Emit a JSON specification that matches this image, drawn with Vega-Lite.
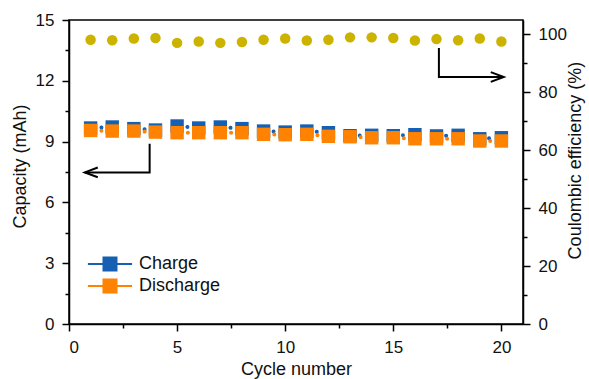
{
  "$schema": "https://vega.github.io/schema/vega-lite/v6.json",
  "width": 454,
  "height": 304,
  "autosize": {"type": "none"},
  "padding": {"left": 69, "top": 20, "right": 66, "bottom": 55},
  "background": "white",
  "config": {
    "font": "Liberation Sans",
    "view": {"stroke": "black", "strokeWidth": 1.5},
    "axis": {
      "domainColor": "black",
      "domainWidth": 1.5,
      "tickColor": "black",
      "tickWidth": 1.5,
      "labelColor": "#111111",
      "titleColor": "#111111",
      "labelFont": "Liberation Sans",
      "titleFont": "Liberation Sans",
      "labelFontSize": 17,
      "titleFontSize": 18,
      "titleFontWeight": "normal",
      "grid": false,
      "labelOverlap": false
    },
    "legend": {"padding": 0}
  },
  "datasets": {
    "capacity": [
      {"cycle": 1, "series": "Charge", "cap": 9.67},
      {"cycle": 2, "series": "Charge", "cap": 9.72},
      {"cycle": 3, "series": "Charge", "cap": 9.64},
      {"cycle": 4, "series": "Charge", "cap": 9.57},
      {"cycle": 5, "series": "Charge", "cap": 9.77},
      {"cycle": 6, "series": "Charge", "cap": 9.67},
      {"cycle": 7, "series": "Charge", "cap": 9.72},
      {"cycle": 8, "series": "Charge", "cap": 9.64},
      {"cycle": 9, "series": "Charge", "cap": 9.52},
      {"cycle": 10, "series": "Charge", "cap": 9.47},
      {"cycle": 11, "series": "Charge", "cap": 9.52},
      {"cycle": 12, "series": "Charge", "cap": 9.44},
      {"cycle": 13, "series": "Charge", "cap": 9.29},
      {"cycle": 14, "series": "Charge", "cap": 9.31},
      {"cycle": 15, "series": "Charge", "cap": 9.29},
      {"cycle": 16, "series": "Charge", "cap": 9.34},
      {"cycle": 17, "series": "Charge", "cap": 9.28},
      {"cycle": 18, "series": "Charge", "cap": 9.31},
      {"cycle": 19, "series": "Charge", "cap": 9.14},
      {"cycle": 20, "series": "Charge", "cap": 9.19},
      {"cycle": 1, "series": "Discharge", "cap": 9.55},
      {"cycle": 2, "series": "Discharge", "cap": 9.52},
      {"cycle": 3, "series": "Discharge", "cap": 9.52},
      {"cycle": 4, "series": "Discharge", "cap": 9.47},
      {"cycle": 5, "series": "Discharge", "cap": 9.44},
      {"cycle": 6, "series": "Discharge", "cap": 9.44},
      {"cycle": 7, "series": "Discharge", "cap": 9.44},
      {"cycle": 8, "series": "Discharge", "cap": 9.44},
      {"cycle": 9, "series": "Discharge", "cap": 9.36},
      {"cycle": 10, "series": "Discharge", "cap": 9.34},
      {"cycle": 11, "series": "Discharge", "cap": 9.36},
      {"cycle": 12, "series": "Discharge", "cap": 9.26},
      {"cycle": 13, "series": "Discharge", "cap": 9.24},
      {"cycle": 14, "series": "Discharge", "cap": 9.19},
      {"cycle": 15, "series": "Discharge", "cap": 9.19},
      {"cycle": 16, "series": "Discharge", "cap": 9.14},
      {"cycle": 17, "series": "Discharge", "cap": 9.14},
      {"cycle": 18, "series": "Discharge", "cap": 9.14},
      {"cycle": 19, "series": "Discharge", "cap": 9.03},
      {"cycle": 20, "series": "Discharge", "cap": 9.03}
    ],
    "efficiency": [
      {"cycle": 1, "eff": 98.2},
      {"cycle": 2, "eff": 98.0},
      {"cycle": 3, "eff": 98.6},
      {"cycle": 4, "eff": 98.8},
      {"cycle": 5, "eff": 97.1},
      {"cycle": 6, "eff": 97.6},
      {"cycle": 7, "eff": 97.1},
      {"cycle": 8, "eff": 97.4},
      {"cycle": 9, "eff": 98.2},
      {"cycle": 10, "eff": 98.6},
      {"cycle": 11, "eff": 97.9},
      {"cycle": 12, "eff": 98.2},
      {"cycle": 13, "eff": 99.0},
      {"cycle": 14, "eff": 99.0},
      {"cycle": 15, "eff": 98.8},
      {"cycle": 16, "eff": 97.9},
      {"cycle": 17, "eff": 98.4},
      {"cycle": 18, "eff": 98.0},
      {"cycle": 19, "eff": 98.6},
      {"cycle": 20, "eff": 97.6}
    ],
    "leftArrow": [
      {"step": 1, "cycle": 3.73, "cap": 8.9},
      {"step": 2, "cycle": 3.73, "cap": 7.48},
      {"step": 3, "cycle": 0.73, "cap": 7.48}
    ],
    "rightArrow": [
      {"step": 1, "cycle": 17.11, "eff": 95.3},
      {"step": 2, "cycle": 17.11, "eff": 85.3},
      {"step": 3, "cycle": 20.11, "eff": 85.3}
    ]
  },
  "layer": [
    {
      "layer": [
        {
          "data": {"name": "capacity"},
          "transform": [{"filter": "datum.series === 'Charge'"}],
          "mark": {"type": "line", "color": "#1560b3", "strokeWidth": 4, "strokeCap": "round", "strokeDash": [0.01, 43.23], "strokeDashOffset": 32.43},
          "encoding": {
            "x": {"field": "cycle", "type": "quantitative", "axis": null},
            "y": {"field": "cap", "type": "quantitative", "axis": null}
          }
        },
        {
          "data": {"name": "capacity"},
          "transform": [{"filter": "datum.series === 'Discharge'"}],
          "mark": {"type": "line", "color": "#ff8200", "strokeWidth": 4, "strokeCap": "round", "strokeDash": [0.01, 43.23], "strokeDashOffset": 32.43},
          "encoding": {
            "x": {"field": "cycle", "type": "quantitative", "axis": null},
            "y": {"field": "cap", "type": "quantitative", "axis": null}
          }
        },
        {
          "data": {"name": "capacity"},
          "mark": {"type": "point", "shape": "square", "filled": true, "size": 180, "opacity": 1, "strokeWidth": 0},
          "encoding": {
            "x": {
              "field": "cycle",
              "type": "quantitative",
              "scale": {"domain": [0, 21], "nice": false, "zero": false},
              "axis": {
                "orient": "bottom",
                "title": "Cycle number",
                "values": [0, 5, 10, 15, 20],
                "tickSize": 7,
                "labelPadding": 8,
                "titlePadding": 5
              }
            },
            "y": {
              "field": "cap",
              "type": "quantitative",
              "scale": {"domain": [0, 15], "nice": false},
              "axis": {
                "orient": "left",
                "title": "Capacity (mAh)",
                "titleY": 146,
                "values": [0, 3, 6, 9, 12, 15],
                "tickSize": 7,
                "labelPadding": 8,
                "titlePadding": 6
              }
            },
            "fill": {
              "field": "series",
              "type": "nominal",
              "scale": {"domain": ["Charge", "Discharge"], "range": ["#1560b3", "#ff8200"]},
              "legend": {
                "title": null,
                "orient": "none",
                "legendX": 32,
                "legendY": 235,
                "symbolType": "M-3.4,0H-1M1,0H3.4M-1,-1H1V1H-1Z",
                "symbolSize": 169,
                "symbolStrokeWidth": 2,
                "labelFontSize": 18,
                "labelFont": "Liberation Sans",
                "labelColor": "#111111",
                "labelOffset": 20,
                "rowPadding": 0
              }
            },
            "stroke": {
              "field": "series",
              "type": "nominal",
              "scale": {"domain": ["Charge", "Discharge"], "range": ["#1560b3", "#ff8200"]},
              "legend": {
                "title": null,
                "orient": "none",
                "legendX": 32,
                "legendY": 235,
                "symbolType": "M-3.4,0H-1M1,0H3.4M-1,-1H1V1H-1Z",
                "symbolSize": 169,
                "symbolStrokeWidth": 2,
                "labelFontSize": 18,
                "labelFont": "Liberation Sans",
                "labelColor": "#111111",
                "labelOffset": 20,
                "rowPadding": 0
              }
            }
          }
        },
        {
          "data": {"name": "leftArrow"},
          "mark": {"type": "line", "color": "black", "strokeWidth": 2},
          "encoding": {
            "x": {
              "field": "cycle",
              "type": "quantitative",
              "axis": {"orient": "bottom", "title": null, "values": [2.5, 7.5, 12.5, 17.5], "tickSize": 4, "labels": false, "domain": false}
            },
            "y": {
              "field": "cap",
              "type": "quantitative",
              "axis": {"orient": "left", "title": null, "values": [1.5, 4.5, 7.5, 10.5, 13.5], "tickSize": 4, "labels": false, "domain": false}
            },
            "order": {"field": "step", "type": "quantitative"}
          }
        },
        {
          "data": {"name": "leftArrow"},
          "transform": [{"filter": "datum.step === 3"}],
          "mark": {"type": "point", "shape": "M2,-0.75L0,0L2,0.75", "size": 169, "filled": false, "color": "black", "strokeWidth": 2, "opacity": 1},
          "encoding": {
            "x": {"field": "cycle", "type": "quantitative", "axis": null},
            "y": {"field": "cap", "type": "quantitative", "axis": null}
          }
        }
      ],
      "resolve": {"axis": {"x": "independent", "y": "independent"}}
    },
    {
      "layer": [
        {
          "data": {"name": "efficiency"},
          "mark": {"type": "circle", "size": 110, "color": "#cbb300", "opacity": 1},
          "encoding": {
            "x": {"field": "cycle", "type": "quantitative", "axis": null},
            "y": {
              "field": "eff",
              "type": "quantitative",
              "scale": {"domain": [0, 105], "nice": false},
              "axis": {
                "orient": "right",
                "title": "Coulombic efficiency (%)",
                "titleAngle": 270,
                "titleY": 140,
                "values": [0, 20, 40, 60, 80, 100],
                "tickSize": 7,
                "labelPadding": 8,
                "titlePadding": 18
              }
            }
          }
        },
        {
          "data": {"name": "rightArrow"},
          "mark": {"type": "line", "color": "black", "strokeWidth": 2},
          "encoding": {
            "x": {"field": "cycle", "type": "quantitative", "axis": null},
            "y": {
              "field": "eff",
              "type": "quantitative",
              "axis": {"orient": "right", "title": null, "values": [10, 30, 50, 70, 90], "tickSize": 4, "labels": false, "domain": false}
            },
            "order": {"field": "step", "type": "quantitative"}
          }
        },
        {
          "data": {"name": "rightArrow"},
          "transform": [{"filter": "datum.step === 3"}],
          "mark": {"type": "point", "shape": "M-2,-0.75L0,0L-2,0.75", "size": 169, "filled": false, "color": "black", "strokeWidth": 2, "opacity": 1},
          "encoding": {
            "x": {"field": "cycle", "type": "quantitative", "axis": null},
            "y": {"field": "eff", "type": "quantitative", "axis": null}
          }
        }
      ],
      "resolve": {"axis": {"y": "independent"}}
    }
  ],
  "resolve": {"scale": {"y": "independent"}}
}
